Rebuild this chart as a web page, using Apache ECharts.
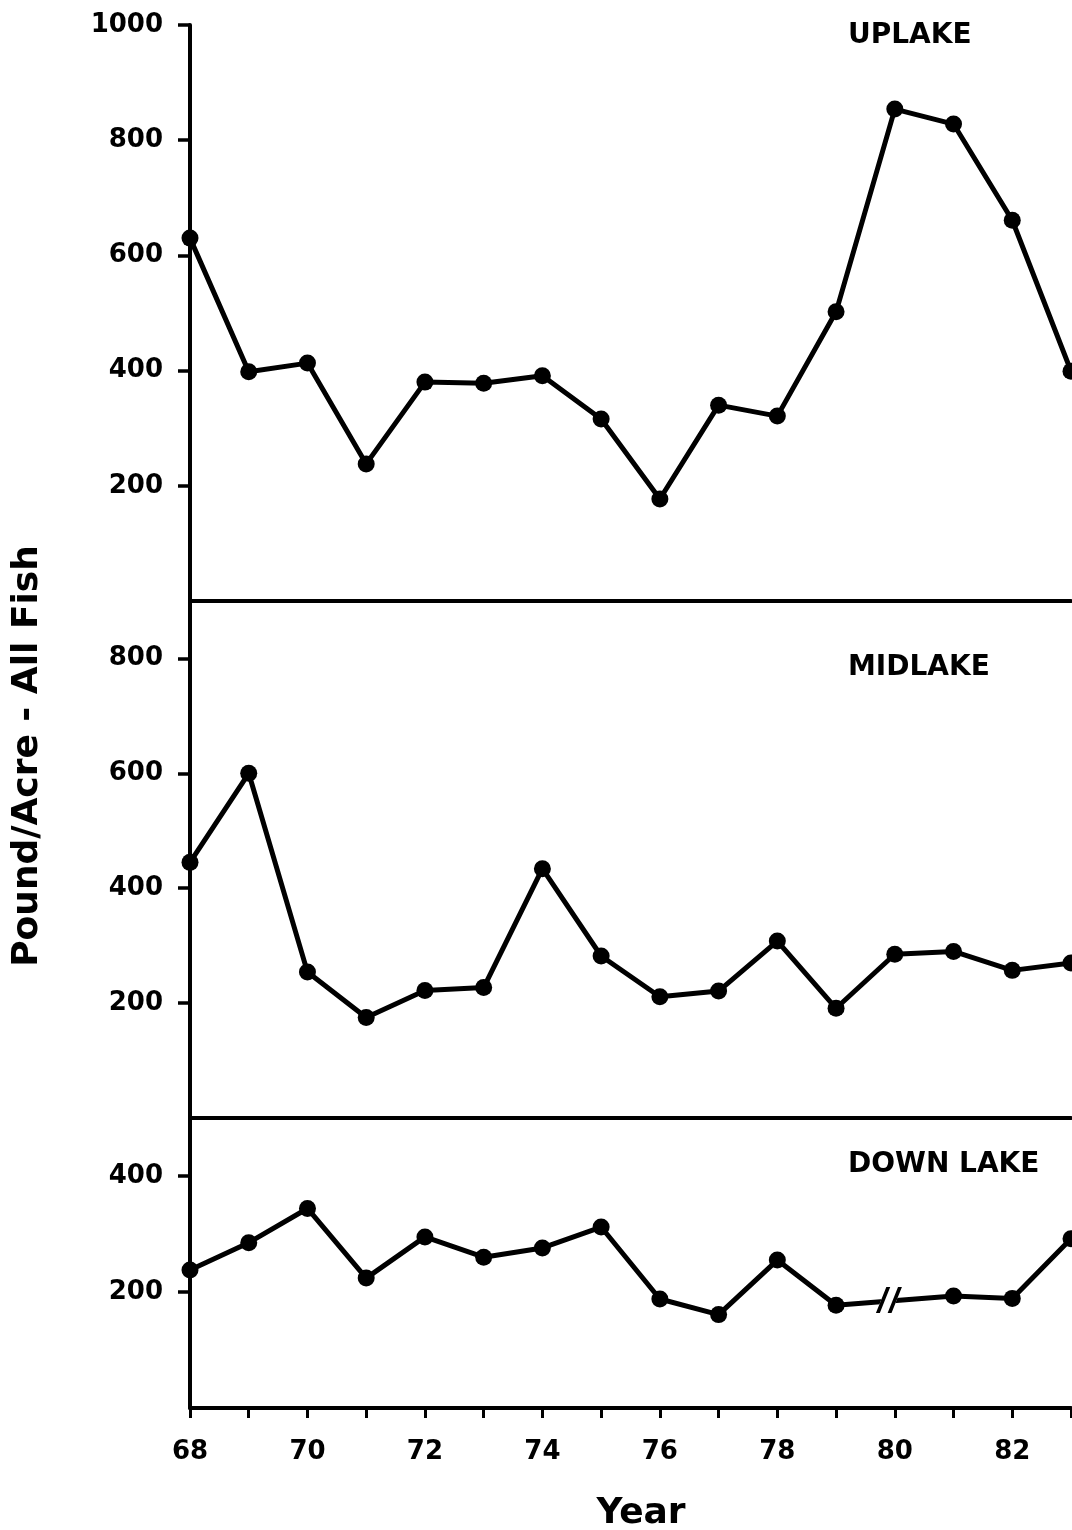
<!DOCTYPE html>
<html>
<head>
<meta charset="utf-8">
<script src="https://cdn.jsdelivr.net/npm/echarts@6/dist/echarts.min.js"></script>
<style>
  html, body { margin: 0; padding: 0; background: #fff; }
  #main { width: 1072px; height: 1530px; }
</style>
</head>
<body>
<div id="main"></div>
<script>
// years (19xx) along the bottom axis
const years = [68, 69, 70, 71, 72, 73, 74, 75, 76, 77, 78, 79, 80, 81, 82, 83];
// pound/acre, all fish, one list per lake section
const uplake   = [630, 398, 413, 238, 380, 378, 391, 316, 177, 340, 321, 502, 854, 828, 661, 399];
const midlake  = [445, 600, 254, 175, 222, 227, 434, 282, 211, 221, 308, 191, 285, 290, 257, 270];
const downlake = [238, 285, 344, 224, 295, 260, 276, 312, 188, 161, 255, 177, null, 193, 189, 292];
// tick labels
const xLabels = [68, 70, 72, 74, 76, 78, 80, 82];
const upTicks = [200, 400, 600, 800, 1000];
const midTicks = [200, 400, 600, 800];
const downTicks = [200, 400];

const FONT = 'DejaVu Sans';
const INK = '#000';

function pairs(vals) {
  return years.map((y, i) => [y, vals[i]]);
}

function xAxisFor(idx, last) {
  return {
    type: 'value', gridIndex: idx, min: 68, max: 83,
    axisLine: { show: true, lineStyle: { color: INK, width: 4 } },
    axisTick: last ? { show: true, length: 10, lineStyle: { color: INK, width: 3 }, customValues: years } : { show: false },
    axisLabel: last ? {
      show: true, margin: 31, color: INK, fontFamily: FONT, fontWeight: 'bold', fontSize: 26,
      customValues: xLabels, formatter: v => String(v)
    } : { show: false },
    splitLine: { show: false }
  };
}

function yAxisFor(idx, max, ticks) {
  return {
    type: 'value', gridIndex: idx, min: 0, max: max,
    axisLine: { show: true, lineStyle: { color: INK, width: 4 } },
    axisTick: { show: true, length: 12, lineStyle: { color: INK, width: 3.5 }, customValues: ticks },
    axisLabel: {
      show: true, margin: 27, color: INK, fontFamily: FONT, fontWeight: 'bold', fontSize: 26,
      customValues: ticks, formatter: v => String(v)
    },
    splitLine: { show: false }
  };
}

function lineSeries(idx, vals) {
  return {
    type: 'line', xAxisIndex: idx, yAxisIndex: idx,
    data: pairs(vals),
    connectNulls: true,
    symbol: 'circle', symbolSize: 17,
    lineStyle: { color: INK, width: 5 },
    itemStyle: { color: INK },
    clip: false
  };
}

// break mark "//" on the down lake line between 79 and 81
const breakBack = 'path://M0,20 L8,0 L20,0 L12,20 Z';
const breakMark = 'path://M0,20 L8,0 L11,0 L3,20 Z M9,20 L17,0 L20,0 L12,20 Z';

const chart = echarts.init(document.getElementById('main'));
const downSeries = lineSeries(2, downlake);
downSeries.markPoint = {
  silent: true,
  label: { show: false },
  data: [
    { coord: [79.9, 186], symbol: breakBack, symbolSize: [26, 26], itemStyle: { color: '#fff' } },
    { coord: [79.9, 186], symbol: breakMark, symbolSize: [26, 26], itemStyle: { color: INK } }
  ]
};

chart.setOption({
  animation: false,
  backgroundColor: '#fff',
  grid: [
    { left: 190, right: 1, top: 25, height: 576 },
    { left: 190, right: 1, top: 601, height: 517 },
    { left: 190, right: 1, top: 1118, height: 290 }
  ],
  xAxis: [xAxisFor(0, false), xAxisFor(1, false), xAxisFor(2, true)],
  yAxis: [yAxisFor(0, 1000, upTicks), yAxisFor(1, 900, midTicks), yAxisFor(2, 500, downTicks)],
  series: [lineSeries(0, uplake), lineSeries(1, midlake), downSeries],
  graphic: [
    { type: 'text', left: 848, top: 22, style: { text: 'UPLAKE', fill: INK, font: 'bold 28px "DejaVu Sans"' } },
    { type: 'text', left: 848, top: 654, style: { text: 'MIDLAKE', fill: INK, font: 'bold 28px "DejaVu Sans"' } },
    { type: 'text', left: 848, top: 1151, style: { text: 'DOWN LAKE', fill: INK, font: 'bold 28px "DejaVu Sans"' } },
    {
      type: 'text', x: 28, y: 756, rotation: Math.PI / 2,
      style: { text: 'Pound/Acre - All Fish', fill: INK, font: 'bold 36px "DejaVu Sans"', textAlign: 'center', textVerticalAlign: 'middle' }
    },
    {
      type: 'text', x: 641, y: 1514,
      style: { text: 'Year', fill: INK, font: 'bold 36px "DejaVu Sans"', textAlign: 'center', textVerticalAlign: 'middle' }
    }
  ]
});
</script>
</body>
</html>
